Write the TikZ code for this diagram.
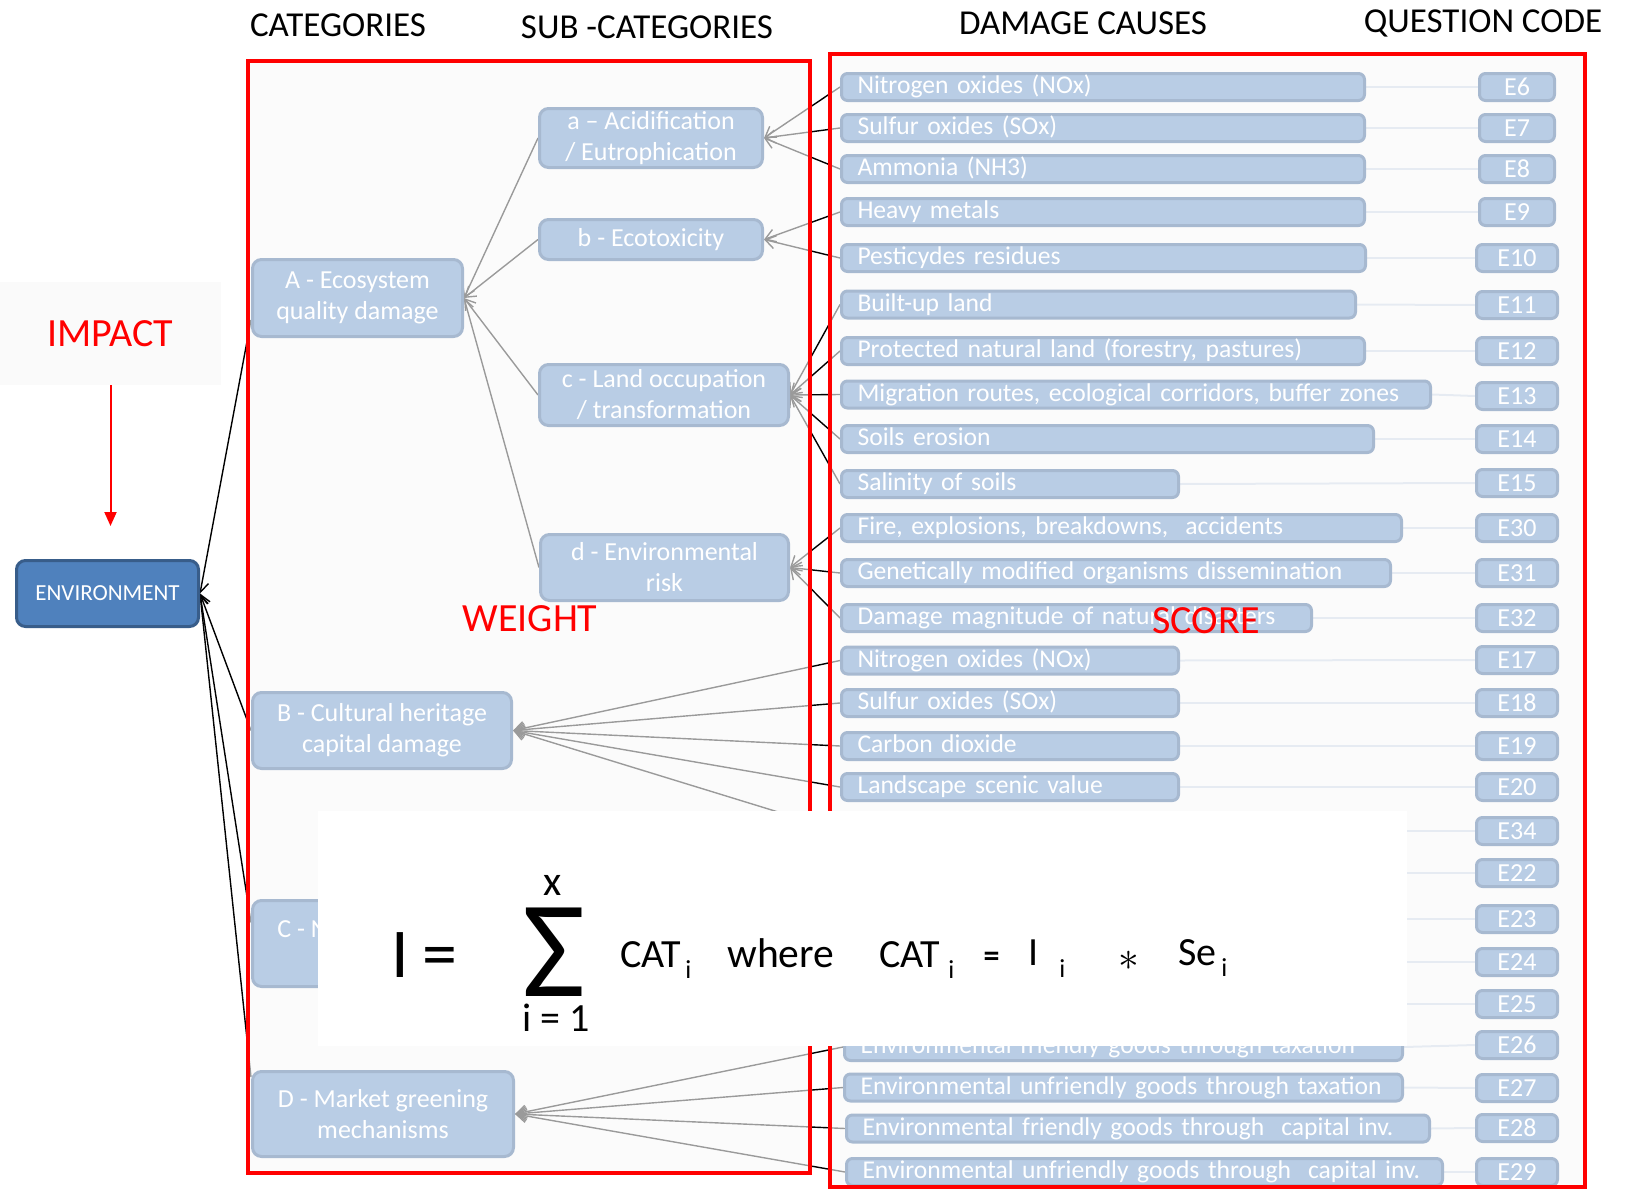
\documentclass[tikz,border=0pt]{standalone}
\usepackage{fontspec}
\setmainfont{Carlito}
\usetikzlibrary{arrows.meta,calc}

\definecolor{boxfill}{HTML}{B9CDE5}
\definecolor{boxedge}{HTML}{A7B9D0}
\definecolor{envfill}{HTML}{4F81BD}
\definecolor{envedge}{HTML}{385D8A}
\definecolor{codeline}{HTML}{C8D5E6}
\definecolor{veilcol}{HTML}{FAFAFA}

\pgfdeclarelayer{bg}
\pgfdeclarelayer{veil}
\pgfdeclarelayer{frames}
\pgfdeclarelayer{panel}
\pgfsetlayers{bg,veil,main,frames,panel}

\tikzset{
  box/.style={rounded corners=4.5pt, fill=boxfill, draw=boxedge, line width=1.5pt,
    text=white, align=center, font=\fontsize{13}{15.5}\selectfont, inner sep=0pt},
  dmgstyle/.style={rounded corners=3pt, fill=boxfill, draw=boxedge, line width=1.5pt,
    text=white, align=left, font=\fontsize{12.8}{15.5}\selectfont, inner xsep=8pt,
    inner ysep=0.5pt, text height=9.5pt, text depth=3pt, anchor=west},
  codestyle/.style={rounded corners=3pt, fill=boxfill, draw=boxedge, line width=1.5pt,
    text=white, font=\fontsize{13}{15.5}\selectfont, inner sep=0pt, minimum height=13.5pt},
  feed/.style={line width=0.7pt, -{Straight Barb[length=5pt,width=6.5pt]}},
  tie/.style={codeline, line width=1pt},
  head/.style={font=\fontsize{17.5}{20}\selectfont, inner sep=0pt},
  redlabel/.style={text=red, font=\fontsize{20}{24}\selectfont, inner sep=0pt},
  frame/.style={draw=red, line width=2pt},
  formula/.style={inner sep=0pt, font=\fontsize{20}{24}\selectfont},
  subidx/.style={inner sep=0pt, font=\fontsize{13}{15}\selectfont, anchor=base west},
}

% damage cause box: name, left x, right x, centre y, text
\newcommand\dmgbox[5]{%
  \pgfmathsetmacro\dmgw{(#3-#2)*0.5-17.5}%
  \node[dmgstyle, text width=\dmgw pt] (#1) at (#2,#4) {\mbox{#5}};}
% question code box: name, centre y, width (px), text
\newcommand\codebox[4]{%
  \pgfmathsetmacro\codew{#3*0.5-1.5}%
  \node[codestyle, minimum width=\codew pt] (#1) at (1517,#2) {#4};}

\begin{document}
\begin{tikzpicture}[x=0.5pt, y=-0.5pt]
\useasboundingbox (0,0) rectangle (1629,1189);

% ---------- headers ----------
\node[head] (hcat) at (338,25) {CATEGORIES};
\node[head] (hsub) at (647,27) {SUB -CATEGORIES};
\node[head] (hdmg) at (1083,23) {DAMAGE CAUSES};
\node[head] (hcode) at (1483,23) {QUESTION CODE};

% ---------- impact ----------
\node[fill=veilcol, minimum width=110.5pt, minimum height=51.5pt, inner sep=0pt,
      text=red, font=\fontsize{20}{24}\selectfont] (impact) at (110.5,333.5) {IMPACT};
\coordinate (impacttip) at (110.5,526);
\draw[red, line width=1pt, -{Triangle[length=7pt,width=6pt]}] (impact.south) -- (impacttip);

% ---------- root ----------
\node[rounded corners=4.5pt, fill=envfill, draw=envedge, line width=1.5pt, text=white,
      font=\fontsize{11.5}{13}\selectfont, minimum width=91pt, minimum height=33pt,
      inner sep=0pt] (env) at (107.5,593.5) {ENVIRONMENT};

% ---------- categories ----------
\node[box, minimum width=105pt, minimum height=38.5pt] (A) at (357.5,298) {A - Ecosystem\\quality damage};
\node[box, minimum width=129.5pt, minimum height=38pt] (B) at (382,730.5) {B - Cultural heritage\\capital damage};
\node[box, minimum width=129.5pt, minimum height=43pt] (C) at (382,943.5) {};
\node[inner sep=0pt, anchor=base west, text=white, font=\fontsize{13}{15.5}\selectfont] (Ctext) at (277,937) {C - N};
\node[box, minimum width=130.5pt, minimum height=42.5pt] (D) at (383,1114) {D - Market greening\\mechanisms};

% ---------- sub-categories ----------
\node[box, minimum width=111.5pt, minimum height=29.5pt] (a) at (651,138) {a -- Acidification\\/ Eutrophication};
\node[box, minimum width=111.5pt, minimum height=20pt] (b) at (651,239.5) {b - Ecotoxicity};
\node[box, minimum width=124.5pt, minimum height=30.5pt] (c) at (664,395) {c - Land occupation\\/ transformation};
\node[box, minimum width=124pt, minimum height=33pt] (d) at (664.5,567.5) {d - Environmental\\risk};

% ---------- damage causes ----------
\dmgbox{d1}{840}{1366}{87}{Nitrogen oxides (NOx)}
\dmgbox{d2}{840}{1366}{128}{Sulfur oxides (SOx)}
\dmgbox{d3}{840}{1366}{169}{Ammonia (NH3)}
\dmgbox{d4}{840}{1366}{212}{Heavy metals}
\dmgbox{d5}{840}{1367}{258}{Pesticydes residues}
\dmgbox{d6}{840}{1357}{304.5}{Built-up land}
\dmgbox{d7}{840}{1366}{351}{Protected natural land (forestry, pastures)}
\dmgbox{d8}{840}{1432}{394.5}{Migration routes, ecological corridors, buffer zones}
\dmgbox{d9}{840}{1375}{439}{Soils erosion}
\dmgbox{d10}{840}{1180}{484}{Salinity of soils}
\dmgbox{d11}{840}{1403}{528}{Fire, explosions, breakdowns,~ accidents}
\dmgbox{d12}{840}{1392}{573}{Genetically modified organisms dissemination}
\dmgbox{d13}{840}{1313}{618}{Damage magnitude of natural disasters}
\dmgbox{d14}{840}{1180}{660.5}{Nitrogen oxides (NOx)}
\dmgbox{d15}{840}{1180}{703}{Sulfur oxides (SOx)}
\dmgbox{d16}{840}{1180}{746}{Carbon dioxide}
\dmgbox{d17}{840}{1180}{787}{Landscape scenic value}
\dmgbox{d18}{843}{1404}{1047}{Environmental friendly goods through taxation}
\dmgbox{d19}{843}{1404}{1087.5}{Environmental unfriendly goods through taxation}
\dmgbox{d20}{845}{1431}{1128.5}{Environmental friendly goods through~ capital inv.}
\dmgbox{d21}{845}{1444}{1172}{Environmental unfriendly goods through~ capital inv.}

% rows lying under the formula panel
\coordinate (h34) at (840,831);
\coordinate (h22) at (1300,873);
\coordinate (h23) at (1300,919);
\coordinate (h24) at (1300,962);
\coordinate (h25) at (1300,1004);
\coordinate (h34r) at (1300,831);

% ---------- question codes ----------
\codebox{e6}{87}{78}{E6}
\codebox{e7}{128}{78}{E7}
\codebox{e8}{169}{78}{E8}
\codebox{e9}{212}{78}{E9}
\codebox{e10}{258}{84}{E10}
\codebox{e11}{305}{84}{E11}
\codebox{e12}{351}{84}{E12}
\codebox{e13}{396}{84}{E13}
\codebox{e14}{439}{84}{E14}
\codebox{e15}{483}{84}{E15}
\codebox{e30}{528}{84}{E30}
\codebox{e31}{573}{84}{E31}
\codebox{e32}{618}{84}{E32}
\codebox{e17}{660}{84}{E17}
\codebox{e18}{703}{84}{E18}
\codebox{e19}{746}{84}{E19}
\codebox{e20}{787}{84}{E20}
\codebox{e34}{831}{84}{E34}
\codebox{e22}{873}{84}{E22}
\codebox{e23}{919}{84}{E23}
\codebox{e24}{962}{84}{E24}
\codebox{e25}{1004}{84}{E25}
\codebox{e26}{1045}{84}{E26}
\codebox{e27}{1088}{84}{E27}
\codebox{e28}{1128}{84}{E28}
\codebox{e29}{1172}{84}{E29}

% ---------- connectors ----------
\begin{pgfonlayer}{bg}
  \fill[white] (0,0) rectangle (1629,1189);
  % categories into the root
  \draw[feed] ([yshift=-11pt]A.west) -- (env.east);
  \draw[feed] (B.west) -- (env.east);
  \draw[feed] ([yshift=10.5pt]C.west) -- (env.east);
  \draw[feed] ([yshift=18.5pt]D.west) -- (env.east);
  % sub-categories into A
  \foreach \s in {a,b,c,d} \draw[feed] (\s.west) -- (A.east);
  % damage causes into sub-categories
  \foreach \r in {d1,d2,d3} \draw[feed] (\r.west) -- (a.east);
  \foreach \r in {d4,d5} \draw[feed] (\r.west) -- (b.east);
  \foreach \r in {d6,d7,d8,d9,d10} \draw[feed] (\r.west) -- (c.east);
  \foreach \r in {d11,d12,d13} \draw[feed] (\r.west) -- (d.east);
  \foreach \r in {d14,d15,d16,d17} \draw[feed] (\r.west) -- (B.east);
  \draw[feed] (h34) -- (B.east);
  \foreach \r in {d18,d19,d20,d21} \draw[feed] (\r.west) -- (D.east);
  % damage causes to question codes
  \foreach \r/\q in {d1/e6,d2/e7,d3/e8,d4/e9,d5/e10,d6/e11,d7/e12,d8/e13,d9/e14,
                     d10/e15,d11/e30,d12/e31,d13/e32,d14/e17,d15/e18,d16/e19,d17/e20,
                     d18/e26,d19/e27,d20/e28,d21/e29}
    \draw[tie] (\r.east) -- (\q.west);
  \foreach \r/\q in {h34r/e34,h22/e22,h23/e23,h24/e24,h25/e25}
    \draw[tie] (\r) -- (\q.west);
\end{pgfonlayer}

% light veil over the two framed areas
\begin{pgfonlayer}{veil}
  \fill[veilcol, opacity=0.62] (248,61) rectangle (810,1173);
  \fill[veilcol, opacity=0.62] (830,54) rectangle (1585,1187);
\end{pgfonlayer}

% ---------- frames and their labels ----------
\begin{pgfonlayer}{frames}
  \draw[frame] (248,61) rectangle (810,1173);
  \draw[frame] (830,54) rectangle (1585,1187);
  \node[redlabel] (weight) at (530,619) {WEIGHT};
  \node[redlabel] (score) at (1206,621) {SCORE};
\end{pgfonlayer}

% ---------- formula panel ----------
\begin{pgfonlayer}{panel}
  \fill[white] (318,811) rectangle (1407,1046);
  \node[formula, anchor=base, font=\fontsize{35}{40}\selectfont] (fI) at (400,977) {I};
  \node[formula, anchor=base, font=\fontsize{35}{40}\selectfont] (feq) at (440,977) {=};
  \node[formula, anchor=base, font=\fontsize{69}{80}\selectfont] (fsum) at (554.5,996) {Σ};
  \node[formula, anchor=base, font=\fontsize{21}{24}\selectfont] (fx) at (553,895) {x};
  \node[formula, anchor=base] (flow) at (556.5,1031) {i = 1};
  \node[formula, anchor=base west] (fcat1) at (620,967) {CAT};
  \node[subidx] (fi1) at (685,978) {i};
  \node[formula, anchor=base west, font=\fontsize{20.8}{24}\selectfont] (fwhere) at (727,967) {where};
  \node[formula, anchor=base west] (fcat2) at (879,967) {CAT};
  \node[subidx] (fi2) at (948,978) {i};
  \node[formula, anchor=base, font=\fontsize{16}{18}\selectfont\bfseries] (feq2) at (991.5,966) {=};
  \node[formula, anchor=base] (fI2) at (1033.5,965) {I};
  \node[subidx] (fi3) at (1059,977) {i};
  \node[formula, anchor=base, font=\fontsize{20}{24}\selectfont] (fast) at (1128.5,970) {$\ast$};
  \node[formula, anchor=base west] (fse) at (1178,965) {Se};
  \node[subidx] (fi4) at (1221,976) {i};
\end{pgfonlayer}
\end{tikzpicture}
\end{document}
